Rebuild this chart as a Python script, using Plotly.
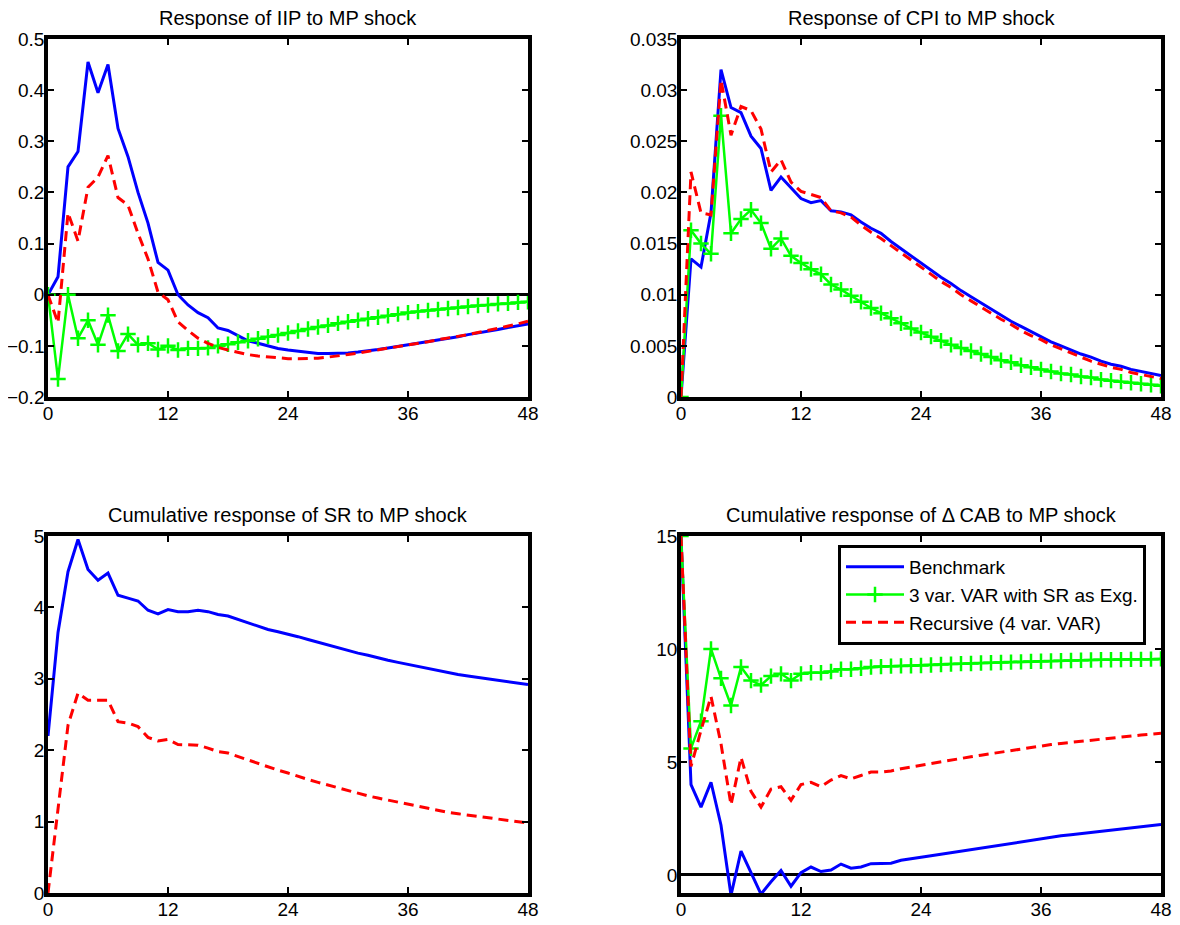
import plotly.graph_objects as go

horizon = list(range(49))
x_ticks = [0, 12, 24, 36, 48]

iip_bench = [0, 0.035, 0.25, 0.28, 0.455, 0.395, 0.45, 0.325, 0.27, 0.2, 0.14, 0.063, 0.048,
             0.0, -0.02, -0.035, -0.045, -0.065, -0.07, -0.08, -0.09, -0.095, -0.1, -0.105, -0.108,
             -0.11, -0.113, -0.115, -0.115, -0.115, -0.114, -0.112, -0.11, -0.107, -0.104, -0.101,
             -0.098, -0.095, -0.092, -0.088, -0.085, -0.082, -0.078, -0.075, -0.071, -0.068, -0.064,
             -0.061, -0.057]
iip_exg = [0, -0.165, 0.0, -0.085, -0.05, -0.098, -0.04, -0.11, -0.077, -0.098, -0.095, -0.107, -0.1,
           -0.108, -0.105, -0.105, -0.104, -0.1, -0.097, -0.093, -0.09, -0.086, -0.082, -0.079, -0.075,
           -0.071, -0.067, -0.063, -0.06, -0.056, -0.053, -0.05, -0.047, -0.044, -0.041, -0.038,
           -0.035, -0.033, -0.031, -0.029, -0.027, -0.025, -0.023, -0.021, -0.02, -0.018, -0.017,
           -0.015, -0.014]
iip_rec = [0, -0.055, 0.16, 0.105, 0.21, 0.23, 0.272, 0.19, 0.175, 0.12, 0.07, 0.005, -0.01,
           -0.053, -0.07, -0.085, -0.095, -0.103, -0.108, -0.113, -0.117, -0.12, -0.122, -0.124, -0.125,
           -0.125, -0.125, -0.124, -0.122, -0.12, -0.117, -0.114, -0.111, -0.108, -0.105, -0.102,
           -0.099, -0.095, -0.092, -0.088, -0.085, -0.081, -0.078, -0.074, -0.07, -0.066, -0.062,
           -0.057, -0.052]

cpi_bench = [0, 0.0135, 0.0127, 0.018, 0.032, 0.0283, 0.0278, 0.0255, 0.0243, 0.0202, 0.0215, 0.0205,
             0.0194, 0.019, 0.0192, 0.0182, 0.0181, 0.0178, 0.0171, 0.0165, 0.016, 0.0152, 0.0145,
             0.0138, 0.0131, 0.0124, 0.0117, 0.0111, 0.0104, 0.0098, 0.0092, 0.0086, 0.008, 0.0074,
             0.0069, 0.0064, 0.0059, 0.0054, 0.005, 0.0046, 0.0042, 0.0039, 0.0035, 0.0032, 0.003,
             0.0027, 0.0025, 0.0023, 0.0021]
cpi_exg = [0, 0.0163, 0.015, 0.014, 0.0275, 0.016, 0.0174, 0.0183, 0.017, 0.0145, 0.0155, 0.0138,
           0.0131, 0.0125, 0.012, 0.011, 0.0105, 0.0099, 0.0093, 0.0087, 0.0082, 0.0077, 0.0072,
           0.0067, 0.0063, 0.0059, 0.0055, 0.0051, 0.0048, 0.0045, 0.0042, 0.0039, 0.0036, 0.0034,
           0.0031, 0.0029, 0.0027, 0.0025, 0.0023, 0.0022, 0.002, 0.0019, 0.0017, 0.0016, 0.0015,
           0.0014, 0.0013, 0.0012, 0.0011]
cpi_rec = [0, 0.022, 0.018, 0.0178, 0.031, 0.0256, 0.0284, 0.028, 0.0262, 0.022, 0.0232, 0.021,
           0.0201, 0.0198, 0.0195, 0.0182, 0.018, 0.0176, 0.0168, 0.0161, 0.0155, 0.0148, 0.0141,
           0.0134, 0.0127, 0.012, 0.0113, 0.0107, 0.01, 0.0094, 0.0088, 0.0082, 0.0076, 0.0071,
           0.0065, 0.006, 0.0056, 0.0051, 0.0047, 0.0043, 0.0039, 0.0035, 0.0032, 0.0029, 0.0027,
           0.0024, 0.0022, 0.002, 0.0018]

sr_bench = [2.2, 3.65, 4.5, 4.95, 4.53, 4.38, 4.48, 4.17, 4.13, 4.09, 3.96, 3.91, 3.97, 3.94, 3.94,
            3.96, 3.94, 3.9, 3.88, 3.83, 3.78, 3.74, 3.69, 3.66, 3.63, 3.59, 3.55, 3.51, 3.47, 3.43,
            3.4, 3.36, 3.33, 3.29, 3.26, 3.23, 3.2, 3.17, 3.14, 3.11, 3.09, 3.06, 3.04, 3.02, 3.0,
            2.98, 2.96, 2.94, 2.92]
sr_rec = [0, 1.2, 2.35, 2.8, 2.7, 2.7, 2.7, 2.4, 2.38, 2.33, 2.18, 2.13, 2.15, 2.08, 2.07, 2.07,
          2.03, 1.98, 1.96, 1.91, 1.86, 1.82, 1.77, 1.72, 1.68, 1.63, 1.59, 1.55, 1.51, 1.47, 1.43,
          1.4, 1.36, 1.33, 1.3, 1.27, 1.24, 1.21, 1.18, 1.16, 1.13, 1.11, 1.09, 1.07, 1.05, 1.03,
          1.01, 1.0, 0.98]

cab_bench = [15, 4.0, 3.0, 4.1, 2.2, -0.9, 1.05, 0.1, -0.85, -0.3, 0.2, -0.5, 0.1, 0.35, 0.15, 0.22,
             0.48, 0.3, 0.35, 0.5, 0.52, 0.52, 0.65, 0.7, 0.78, 0.85, 0.92, 0.99, 1.06, 1.13, 1.2,
             1.27, 1.34, 1.41, 1.48, 1.55, 1.62, 1.68, 1.73, 1.78, 1.83, 1.88, 1.93, 1.98, 2.03, 2.08,
             2.13, 2.18, 2.23]
cab_exg = [15, 5.6, 6.8, 10.0, 8.7, 7.5, 9.2, 8.6, 8.4, 8.8, 8.9, 8.6, 8.9, 8.95, 8.95, 9.0, 9.1,
           9.1, 9.15, 9.2, 9.22, 9.24, 9.25, 9.26, 9.27, 9.29, 9.31, 9.33, 9.35, 9.36, 9.38, 9.39,
           9.4, 9.42, 9.43, 9.45, 9.46, 9.47, 9.48, 9.49, 9.5, 9.51, 9.52, 9.52, 9.53, 9.54, 9.54,
           9.55, 9.56]
cab_rec = [15, 4.8, 6.4, 7.9, 5.8, 3.1, 5.2, 3.7, 3.0, 3.8, 3.9, 3.3, 4.0, 4.1, 3.9, 4.2, 4.4, 4.25,
           4.4, 4.55, 4.55, 4.6, 4.7, 4.78, 4.83, 4.91, 4.99, 5.07, 5.15, 5.23, 5.3, 5.37, 5.44,
           5.51, 5.58, 5.65, 5.72, 5.77, 5.82, 5.87, 5.92, 5.97, 6.02, 6.07, 6.11, 6.15, 6.19, 6.23,
           6.27]

titles = ["Response of IIP to MP shock", "Response of CPI to MP shock",
          "Cumulative response of SR to MP shock", "Cumulative response of \u0394 CAB to MP shock"]
legend_names = ["Benchmark", "3 var. VAR with SR as Exg.", "Recursive (4 var. VAR)"]

y_ticks = [
    [-0.2, -0.1, 0, 0.1, 0.2, 0.3, 0.4, 0.5],
    [0, 0.005, 0.01, 0.015, 0.02, 0.025, 0.03, 0.035],
    [0, 1, 2, 3, 4, 5],
    [0, 5, 10, 15],
]
y_ranges = [[-0.2, 0.5], [0, 0.035], [0, 5], [-0.8, 15]]

# page has an 8px body margin; the figure sits at (8, 8) inside the 1180x925 window
OFF = 8
W, H = 1180 - OFF, 925 - OFF
# panel pixel boxes in window coordinates (left, right, top, bottom)
boxes = [(48, 528, 39, 397), (681, 1161, 39, 397), (48, 528, 536, 893), (681, 1161, 536, 893)]

FONT = "Liberation Sans, Arial, sans-serif"
BLUE, GREEN, RED = "#0000FF", "#00FF00", "#FF0000"

fig = go.Figure()

panels = [
    (iip_bench, iip_exg, iip_rec),
    (cpi_bench, cpi_exg, cpi_rec),
    (sr_bench, None, sr_rec),
    (cab_bench, cab_exg, cab_rec),
]

for i, (b, g, r) in enumerate(panels):
    xa = "x" if i == 0 else f"x{i+1}"
    ya = "y" if i == 0 else f"y{i+1}"
    show = (i == 3)
    fig.add_trace(go.Scatter(x=horizon[:len(b)], y=b, mode="lines", name=legend_names[0],
                             line=dict(color=BLUE, width=3), xaxis=xa, yaxis=ya,
                             showlegend=show, legendrank=1))
    if g is not None:
        fig.add_trace(go.Scatter(x=horizon[:len(g)], y=g, mode="lines+markers", name=legend_names[1],
                                 line=dict(color=GREEN, width=2.5),
                                 marker=dict(symbol="cross-thin", size=11, color=GREEN,
                                             line=dict(color=GREEN, width=2.5)),
                                 xaxis=xa, yaxis=ya, showlegend=show, legendrank=2))
    fig.add_trace(go.Scatter(x=horizon[:len(r)], y=r, mode="lines", name=legend_names[2],
                             line=dict(color=RED, width=3, dash="10px,6px"), xaxis=xa, yaxis=ya,
                             showlegend=show, legendrank=3))

layout = dict(
    template="none",
    width=W, height=H,
    margin=dict(l=0, r=0, t=0, b=0, pad=0, autoexpand=False),
    paper_bgcolor="white", plot_bgcolor="white",
    font=dict(family=FONT, size=18, color="black"),
    showlegend=True,
    legend=dict(x=(838 - OFF) / W, y=1 - (545 - OFF) / H, xanchor="left", yanchor="top",
                bordercolor="black", borderwidth=3, bgcolor="white",
                font=dict(family=FONT, size=19, color="black"),
                tracegroupgap=0, itemwidth=58),
)

annotations = []
for i, (l, rr, t, bt) in enumerate(boxes):
    l, rr, t, bt = l - OFF, rr - OFF, t - OFF, bt - OFF
    xk = "xaxis" if i == 0 else f"xaxis{i+1}"
    yk = "yaxis" if i == 0 else f"yaxis{i+1}"
    ya = "y" if i == 0 else f"y{i+1}"
    xa = "x" if i == 0 else f"x{i+1}"
    layout[xk] = dict(
        domain=[l / W, rr / W], anchor=ya, range=[0, 48], tickvals=x_ticks,
        showline=True, linecolor="black", linewidth=3.5, mirror="allticks",
        ticks="inside", ticklen=6, tickwidth=2, tickcolor="black", automargin=False,
        showgrid=False, zeroline=False, tickfont=dict(family=FONT, size=19),
        ticklabelstandoff=-4,
    )
    layout[yk] = dict(
        domain=[1 - bt / H, 1 - t / H], anchor=xa, range=y_ranges[i], tickvals=y_ticks[i],
        showline=True, linecolor="black", linewidth=3.5, mirror="allticks",
        ticks="inside", ticklen=6, tickwidth=2, tickcolor="black", automargin=False,
        showgrid=False, zeroline=(i in (0, 3)), zerolinecolor="black", zerolinewidth=3,
        tickfont=dict(family=FONT, size=19), ticklabelstandoff=-4,
    )
    annotations.append(dict(
        text=titles[i], x=(l + rr) / 2 / W, y=1 - (t - 21) / H, xref="paper", yref="paper",
        xanchor="center", yanchor="middle", showarrow=False,
        font=dict(family=FONT, size=20, color="black"),
    ))

layout["annotations"] = annotations
fig.update_layout(**layout)
fig.write_html("out.html")
